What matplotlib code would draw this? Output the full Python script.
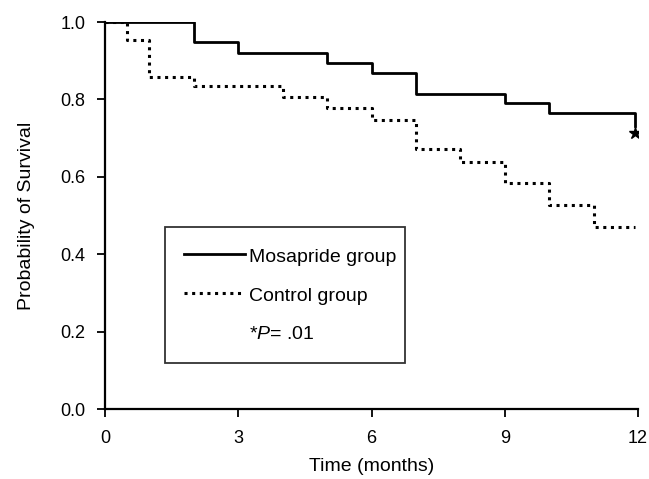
import matplotlib
matplotlib.use("Agg")
import matplotlib.pyplot as plt
from matplotlib.lines import Line2D

plt.rcParams['font.family'] = ['Liberation Sans', 'DejaVu Sans']
plt.rcParams['mathtext.fontset'] = 'custom'
plt.rcParams['mathtext.it'] = 'Liberation Sans:italic'
plt.rcParams['mathtext.rm'] = 'Liberation Sans'

# Kaplan-Meier step data (time in months, survival probability)
mosa_t = [0, 2, 3, 5, 6, 7, 9, 10, 11.94]
mosa_s = [1.0, 0.949, 0.919, 0.894, 0.867, 0.815, 0.790, 0.764, 0.730]
ctrl_t = [0, 0.5, 1, 2, 4, 5, 6, 7, 8, 9, 10, 11, 11.94]
ctrl_s = [1.0, 0.953, 0.859, 0.835, 0.807, 0.777, 0.748, 0.671, 0.639, 0.583, 0.527, 0.470, 0.470]
star_t = [11.94]
star_s = [0.712]

x_ticks = [0, 3, 6, 9, 12]
y_ticks = [0.0, 0.2, 0.4, 0.6, 0.8, 1.0]
y_tick_labels = ["0.0", "0.2", "0.4", "0.6", "0.8", "1.0"]
series_labels = ["Mosapride group", "Control group"]
p_label = r"*$P$= .01"

fig = plt.figure(figsize=(6.49, 4.79), dpi=100)
ax = fig.add_axes([105/649, 70/479, 533/649, 387/479])

ax.step(mosa_t, mosa_s, where='post', color='black', lw=2.0)
ax.step(ctrl_t, ctrl_s, where='post', color='black', lw=2.2,
        linestyle=(0, (1, 1.5)))
ax.plot(star_t, star_s, linestyle='none', marker='*', color='black', markersize=9)

ax.set_xlim(0, 12)
ax.set_ylim(0, 1.0)
ax.set_xticks(x_ticks)
ax.set_yticks(y_ticks)
ax.set_yticklabels(y_tick_labels)
for s in ['top', 'right']:
    ax.spines[s].set_visible(False)
for s in ['left', 'bottom']:
    ax.spines[s].set_linewidth(1.6)
ax.tick_params(axis='both', direction='out', length=6, width=1.3,
               labelsize=13, colors='black')
ax.tick_params(axis='x', pad=9)
ax.tick_params(axis='y', pad=8)
ax.set_xlabel("Time (months)", fontsize=14, labelpad=8)
ax.set_ylabel("Probability of Survival", fontsize=14, labelpad=18)

handles = [Line2D([], [], color='black', lw=2.0),
           Line2D([], [], color='black', lw=2.2, linestyle=(0, (1, 1.5))),
           Line2D([], [], color='none')]
leg = ax.legend(handles, series_labels + [p_label],
                loc='upper left', mode='expand',
                bbox_to_anchor=(60/533, 45/387, 240/533, 137/387),
                borderaxespad=0, frameon=True, fancybox=False,
                edgecolor='black', fontsize=14, handlelength=3.1,
                handleheight=1.0, handletextpad=0.2, labelspacing=1.0,
                borderpad=1.0)
leg.get_frame().set_linewidth(1.3)

fig.savefig("out.png", dpi=100)
